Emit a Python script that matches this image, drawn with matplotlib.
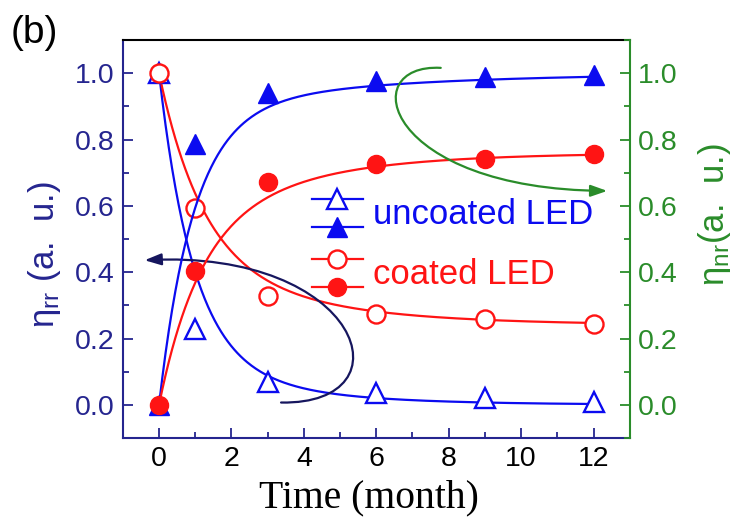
import matplotlib
matplotlib.use("Agg")
import matplotlib.pyplot as plt
import numpy as np
from matplotlib.lines import Line2D
from matplotlib.legend_handler import HandlerBase
from matplotlib.patches import FancyArrowPatch
from matplotlib.path import Path
from matplotlib.ticker import MultipleLocator, FormatStrFormatter

plt.rcParams['font.family'] = ['Liberation Sans', 'DejaVu Sans']
plt.rcParams['mathtext.fontset'] = 'custom'
plt.rcParams['mathtext.rm'] = 'Liberation Sans'
plt.rcParams['mathtext.it'] = 'Liberation Sans:italic'

# measurement times (months)
months = [0, 1, 3, 6, 9, 12]

# radiative ratio (left axis) and non-radiative ratio (right axis)
rr_uncoated = [1.0, 0.229, 0.069, 0.036, 0.021, 0.009]
nr_uncoated = [0.0, 0.786, 0.940, 0.976, 0.988, 0.994]
rr_coated = [1.0, 0.593, 0.328, 0.274, 0.259, 0.244]
nr_coated = [0.0, 0.404, 0.672, 0.726, 0.741, 0.756]

# bi-exponential fit parameters: y0, a1, t1, a2, t2
fit_rr_uncoated = (0.0, 0.86, 0.95, 0.14, 3.0)
fit_nr_uncoated = (1.0, -0.88, 0.95, -0.12, 5.0)
fit_rr_coated = (0.24, 0.55, 1.2, 0.21, 3.5)
fit_nr_coated = (0.76, -0.50, 1.1, -0.26, 3.2)

NAVY = '#25258f'
ARROW_NAVY = '#16165e'
GREEN = '#2a8c2a'
BLUE = '#0b0bf0'
RED = '#ff1414'


def biexp(t, p):
    y0, a1, t1, a2, t2 = p
    return y0 + a1 * np.exp(-t / t1) + a2 * np.exp(-t / t2)


class StackedHandler(HandlerBase):
    # draws a tuple of line+marker handles one above the other
    def create_artists(self, legend, orig_handle, xdescent, ydescent,
                       width, height, fontsize, trans):
        artists = []
        n = len(orig_handle)
        for i, h in enumerate(orig_handle):
            y = -ydescent + height * (n - i - 0.5) / n
            ln = Line2D([-xdescent, -xdescent + width], [y, y],
                        color=h.get_color(), lw=h.get_linewidth())
            mk = Line2D([-xdescent + width / 2], [y], linestyle='',
                        marker=h.get_marker(), markersize=h.get_markersize(),
                        markerfacecolor=h.get_markerfacecolor(),
                        markeredgecolor=h.get_markeredgecolor(),
                        markeredgewidth=h.get_markeredgewidth())
            for a in (ln, mk):
                a.set_transform(trans)
                artists.append(a)
        return artists


fig = plt.figure(figsize=(7.4, 5.23), dpi=100)
ax = fig.add_axes([0.166, 0.1625, 0.685, 0.761])
ax2 = ax.twinx()

tfit = np.linspace(0, 12, 400)
ms_tri = 14
ms_circ = 13
lw = 1.6

ax.plot(tfit, biexp(tfit, fit_rr_uncoated), color=BLUE, lw=lw, zorder=2)
ax.plot(tfit, biexp(tfit, fit_rr_coated), color=RED, lw=lw, zorder=2)
ax2.plot(tfit, biexp(tfit, fit_nr_uncoated), color=BLUE, lw=lw, zorder=2)
ax2.plot(tfit, biexp(tfit, fit_nr_coated), color=RED, lw=lw, zorder=2)

ax.plot(months, rr_uncoated, linestyle='', marker='^', ms=ms_tri,
        mfc='white', mec=BLUE, mew=1.7, zorder=3)
ax.plot(months, rr_coated, linestyle='', marker='o', ms=ms_circ,
        mfc='white', mec=RED, mew=1.7, zorder=4)
ax2.plot(months, nr_uncoated, linestyle='', marker='^', ms=ms_tri,
         mfc=BLUE, mec=BLUE, zorder=3)
ax2.plot(months, nr_coated, linestyle='', marker='o', ms=ms_circ,
         mfc=RED, mec=RED, zorder=4)

for a in (ax, ax2):
    a.set_xlim(-1, 13)
    a.set_ylim(-0.1, 1.1)
    a.yaxis.set_major_locator(MultipleLocator(0.2))
    a.yaxis.set_minor_locator(MultipleLocator(0.1))
    a.yaxis.set_major_formatter(FormatStrFormatter('%.1f'))
    a.tick_params(which='both', direction='in', labelsize=20.5, pad=6)
    a.tick_params(which='major', length=7, width=1.3)
    a.tick_params(which='minor', length=4, width=1.3)

ax.xaxis.set_major_locator(MultipleLocator(2))
ax.xaxis.set_minor_locator(MultipleLocator(1))
ax.tick_params(axis='x', which='both', colors=NAVY, labelcolor='black')
ax.tick_params(axis='y', which='both', colors=NAVY, labelcolor=NAVY)
ax2.tick_params(axis='y', which='both', colors=GREEN, labelcolor=GREEN)

ax.spines['left'].set_color(NAVY)
ax.spines['bottom'].set_color(NAVY)
ax.spines['top'].set_color('black')
ax.spines['right'].set_visible(False)
for s in ('left', 'top', 'bottom'):
    ax2.spines[s].set_visible(False)
ax2.spines['right'].set_color(GREEN)
for s in ax.spines.values():
    s.set_linewidth(1.5)
ax2.spines['right'].set_linewidth(1.5)

ax.set_xlabel('Time (month)', family='Liberation Serif', fontsize=28.5,
              color='black')
ax.xaxis.set_label_coords(0.485, -0.105)
ax.set_ylabel(r'η$_{\mathrm{rr}}$ (a.  u.)', fontsize=25, color=NAVY,
              va='center')
ax.yaxis.set_label_coords(-0.155, 0.46)
ax2.set_ylabel(r'η$_{\mathrm{nr}}$(a.  u.)', fontsize=25, color=GREEN,
               rotation=90, va='center')
ax2.yaxis.set_label_coords(1.168, 0.562)

# curved guide arrows pointing to each axis
navy_path = Path([(3.37, 0.007), (7.0, 0.0), (5.6, 0.47), (-0.4, 0.436)],
                 [Path.MOVETO, Path.CURVE4, Path.CURVE4, Path.CURVE4])
green_path = Path([(7.78, 1.016), (5.4, 1.03), (6.2, 0.65), (12.38, 0.645)],
                  [Path.MOVETO, Path.CURVE4, Path.CURVE4, Path.CURVE4])
ax.add_patch(FancyArrowPatch(path=navy_path, color=ARROW_NAVY, lw=1.6,
                             arrowstyle='-|>,head_length=1.0,head_width=0.35',
                             mutation_scale=10, zorder=5))
ax2.add_patch(FancyArrowPatch(path=green_path, color=GREEN, lw=1.6,
                              arrowstyle='-|>,head_length=1.0,head_width=0.35',
                              mutation_scale=10, zorder=5))

h_rr_u = Line2D([], [], color=BLUE, lw=lw, marker='^', ms=ms_tri,
                mfc='white', mec=BLUE, mew=1.7)
h_nr_u = Line2D([], [], color=BLUE, lw=lw, marker='^', ms=ms_tri,
                mfc=BLUE, mec=BLUE)
h_rr_c = Line2D([], [], color=RED, lw=lw, marker='o', ms=ms_circ,
                mfc='white', mec=RED, mew=1.7)
h_nr_c = Line2D([], [], color=RED, lw=lw, marker='o', ms=ms_circ,
                mfc=RED, mec=RED)
leg = ax2.legend([(h_rr_u, h_nr_u), (h_rr_c, h_nr_c)],
                 ['uncoated LED', 'coated LED'],
                 handler_map={tuple: StackedHandler()},
                 loc='center', bbox_to_anchor=(0.651, 0.49),
                 frameon=False, fontsize=25, handlelength=1.45,
                 handleheight=2.1, labelspacing=0.1, handletextpad=0.3,
                 borderpad=0, borderaxespad=0)
leg.get_texts()[0].set_color(BLUE)
leg.get_texts()[1].set_color(RED)

fig.text(0.047, 0.937, '(b)', fontsize=28, ha='center', va='center')

fig.savefig('out.png', dpi=100, facecolor='white')
